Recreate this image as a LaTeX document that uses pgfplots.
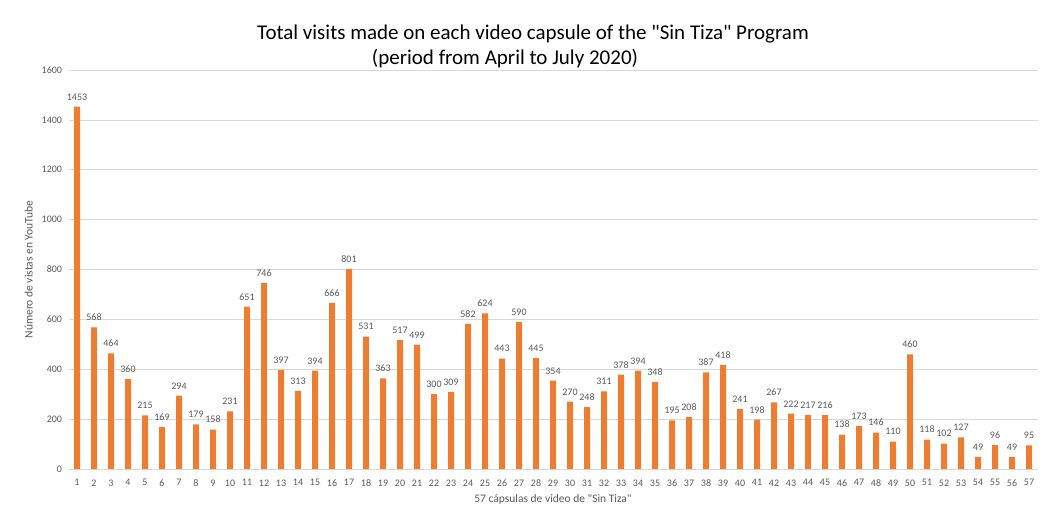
\documentclass[border=0pt]{standalone}
\usepackage{pgfplots}
\pgfplotsset{compat=1.18}
\usepackage{fontspec}
\setmainfont{Carlito}[Ligatures=TeXOff]
\definecolor{barorange}{HTML}{ED7D31}
\definecolor{txtgrey}{HTML}{595959}
\definecolor{gridgrey}{HTML}{D9D9D9}
\begin{document}
\begin{tikzpicture}
\begin{axis}[
  at={(68.5pt,39pt)}, anchor=south west,
  scale only axis, width=969pt, height=399pt,
  xmin=0.5, xmax=57.5, ymin=0, ymax=1600,
  ybar, bar width=6pt,
  axis x line*=bottom, axis y line*=left,
  x axis line style={gridgrey, line width=0.8pt, -},
  y axis line style={draw=none},
  ytick={0,200,...,1600},
  ymajorgrids, grid style={gridgrey, line width=0.6pt},
  xtick={1,...,57},
  major tick length=0pt,
  tick label style={font=\fontsize{10}{11}\selectfont, text=txtgrey},
  /pgf/number format/assume math mode=true,
  /pgf/number format/1000 sep={},
  yticklabel style={xshift=-3pt},
  xticklabel style={yshift=-7pt},
  nodes near coords,
  every node near coord/.append style={font=\fontsize{10}{11}\selectfont, text=txtgrey, yshift=3pt, /pgf/number format/1000 sep={}},
  xlabel={57 cápsulas de video de "Sin Tiza"},
  ylabel={Número de vistas en YouTube},
  label style={font=\fontsize{11.5}{12}\selectfont, text=txtgrey},
  xlabel style={yshift=-1pt},
  ylabel style={yshift=2pt},
]
\addplot[fill=barorange, draw=none] coordinates {
(1,1453) (2,568) (3,464) (4,360) (5,215) (6,169) (7,294) (8,179) (9,158) (10,231)
(11,651) (12,746) (13,397) (14,313) (15,394) (16,666) (17,801) (18,531) (19,363) (20,517)
(21,499) (22,300) (23,309) (24,582) (25,624) (26,443) (27,590) (28,445) (29,354) (30,270)
(31,248) (32,311) (33,378) (34,394) (35,348) (36,195) (37,208) (38,387) (39,418) (40,241)
(41,198) (42,267) (43,222) (44,217) (45,216) (46,138) (47,173) (48,146) (49,110) (50,460)
(51,118) (52,102) (53,127) (54,49) (55,96) (56,49) (57,95)
};
\end{axis}
\pgfresetboundingbox
\path (0,0) rectangle (1040pt,508pt);
\node[font=\fontsize{21}{24}\selectfont, text=black] at (533pt,474pt) {Total visits made on each video capsule of the "Sin Tiza" Program};
\node[font=\fontsize{21}{24}\selectfont, text=black] at (505pt,449pt) {(period from April to July 2020)};
\end{tikzpicture}
\end{document}
